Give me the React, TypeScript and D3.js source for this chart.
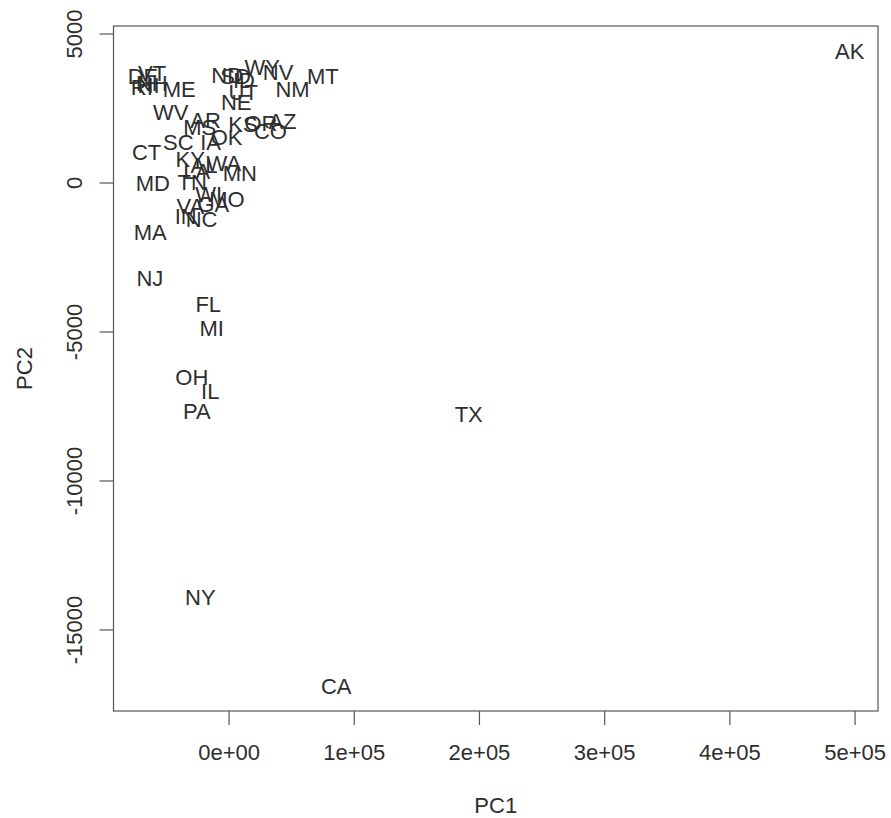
import React from "react";
import * as d3 from "d3";

// state labels and their scores on the first two principal components
const states = [
  "AL", "AK", "AZ", "AR", "CA", "CO", "CT", "DE", "FL", "GA",
  "HI", "ID", "IL", "IN", "IA", "KS", "KY", "LA", "ME", "MD",
  "MA", "MI", "MN", "MS", "MO", "MT", "NE", "NV", "NH", "NJ",
  "NM", "NY", "NC", "ND", "OH", "OK", "OR", "PA", "RI", "SC",
  "SD", "TN", "TX", "UT", "VT", "VA", "WA", "WV", "WI", "WY",
];

const pc1 = [
  -20028, 495696, 42681, -18791, 85625, 33030, -65874, -68754, -16646, -12663,
  -64311, 11941, -14988, -34639, -14795, 11051, -31086, -25806, -39816, -60845,
  -62910, -13919, 8553, -23440, -1741, 74851, 5747, 39153, -61709, -63215,
  50676, -22905, -21938, -1463, -29761, -1954, 25448, -25770, -69687, -40511,
  5219, -29408, 191398, 11360, -61469, -30956, -4166, -46666, -16272, 26467,
];

const pc2 = [
  605, 4417, 2089, 2112, -16867, 1748, 1030, 3578, -4053, -701,
  3294, 3449, -6970, -1112, 1366, 1980, 819, 406, 3136, 0,
  -1650, -4883, 336, 1875, -523, 3597, 2709, 3707, 3354, -3200,
  3168, -13900, -1224, 3607, -6528, 1528, 1995, -7648, 3224, 1377,
  3572, 35, -7742, 3058, 3694, -775, 682, 2386, -364, 3904,
];

const xTicks = [0, 100000, 200000, 300000, 400000, 500000];
const xTickLabels = ["0e+00", "1e+05", "2e+05", "3e+05", "4e+05", "5e+05"];
const yTicks = [-15000, -10000, -5000, 0, 5000];
const yTickLabels = ["-15000", "-10000", "-5000", "0", "5000"];

const W = 891;
const H = 818;
const box = { left: 113.5, right: 878, top: 26, bottom: 711 };
const font = "'Liberation Sans', Arial, Helvetica, sans-serif";
const fs = 22;

// R-style 4% padding around the data range
const pad = (ext: [number, number]) => {
  const d = (ext[1] - ext[0]) * 0.04;
  return [ext[0] - d, ext[1] + d];
};

export default function App() {
  const x = d3
    .scaleLinear()
    .domain(pad(d3.extent(pc1) as [number, number]))
    .range([box.left, box.right]);
  const y = d3
    .scaleLinear()
    .domain(pad(d3.extent(pc2) as [number, number]))
    .range([box.bottom, box.top]);

  const textFill = "#2e2e2e";
  const lineCol = "#555";

  return (
    <svg
      width={W}
      height={H}
      style={{ position: "absolute", left: 0, top: 0, background: "#fff" }}
      fontFamily={font}
    >
      <rect x={0} y={0} width={W} height={H} fill="#fff" />

      {/* plot box */}
      <rect
        x={box.left}
        y={box.top}
        width={box.right - box.left}
        height={box.bottom - box.top}
        fill="none"
        stroke={lineCol}
        strokeWidth={1.2}
      />

      {/* x axis */}
      {xTicks.map((t, i) => (
        <g key={"x" + t}>
          <line
            x1={x(t)}
            x2={x(t)}
            y1={box.bottom}
            y2={box.bottom + 14}
            stroke={lineCol}
            strokeWidth={1.2}
          />
          <text
            x={x(t)}
            y={760}
            textAnchor="middle"
            fontSize={fs}
            fill={textFill}
          >
            {xTickLabels[i]}
          </text>
        </g>
      ))}

      {/* y axis */}
      {yTicks.map((t, i) => (
        <g key={"y" + t}>
          <line
            x1={box.left - 14}
            x2={box.left}
            y1={y(t)}
            y2={y(t)}
            stroke={lineCol}
            strokeWidth={1.2}
          />
          <text
            transform={`translate(82, ${y(t)}) rotate(-90)`}
            textAnchor="middle"
            fontSize={fs}
            fill={textFill}
          >
            {yTickLabels[i]}
          </text>
        </g>
      ))}

      <text
        x={(box.left + box.right) / 2}
        y={813}
        textAnchor="middle"
        fontSize={fs}
        fill={textFill}
      >
        PC1
      </text>
      <text
        transform={`translate(32, ${(box.top + box.bottom) / 2}) rotate(-90)`}
        textAnchor="middle"
        fontSize={fs}
        fill={textFill}
      >
        PC2
      </text>

      {/* state labels */}
      {states.map((s, i) => (
        <text
          key={s}
          x={x(pc1[i])}
          y={y(pc2[i])}
          dy="0.36em"
          textAnchor="middle"
          fontSize={fs}
          fill={textFill}
        >
          {s}
        </text>
      ))}
    </svg>
  );
}
